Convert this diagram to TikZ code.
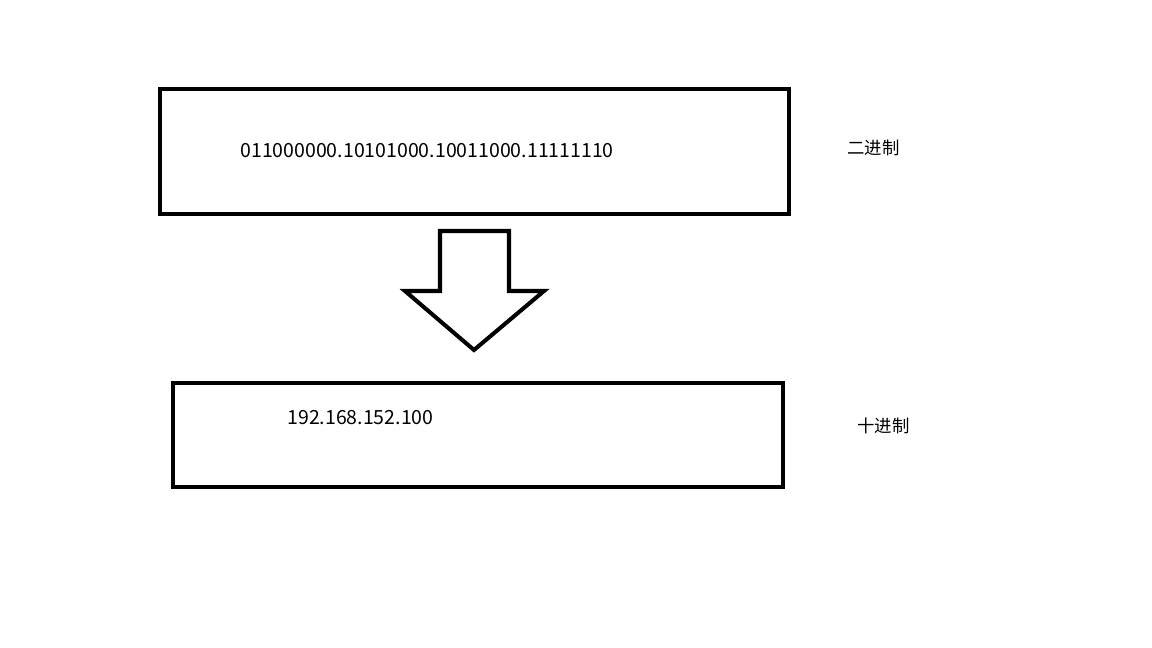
\documentclass[tikz,border=0pt]{standalone}
\usepackage{fontspec}
\setmainfont{Noto Sans CJK SC}
\usetikzlibrary{positioning, calc}

\begin{document}
\begin{tikzpicture}[x=0.02cm, y=-0.02cm,
  box/.style={draw=black, line width=2.3pt, inner sep=0pt},
  value/.style={font=\fontsize{11.1pt}{13pt}\selectfont, inner sep=0pt, anchor=west},
  base/.style={font=\fontsize{9.9pt}{11pt}\selectfont, inner sep=0pt, anchor=west}]
  \useasboundingbox (0,0) rectangle (1152,648);
  % the two number boxes
  \draw[box] (160,89) rectangle (789,214);
  \draw[box] (173,383) rectangle (783,487);
  \node[value] (bin) at (240,151) {011000000.10101000.10011000.11111110};
  \node[value] (dec) at (287,418) {192.168.152.100};
  \node[base] (binlbl) at (847,148) {二进制};
  \node[base] (declbl) at (857,426) {十进制};
  % hollow arrow
  \draw[line width=2.3pt, line join=miter]
    (440,231) -- (509,231) -- (509,291) -- (544,291) -- (474,350)
    -- (405,291) -- (440,291) -- cycle;
\end{tikzpicture}
\end{document}
